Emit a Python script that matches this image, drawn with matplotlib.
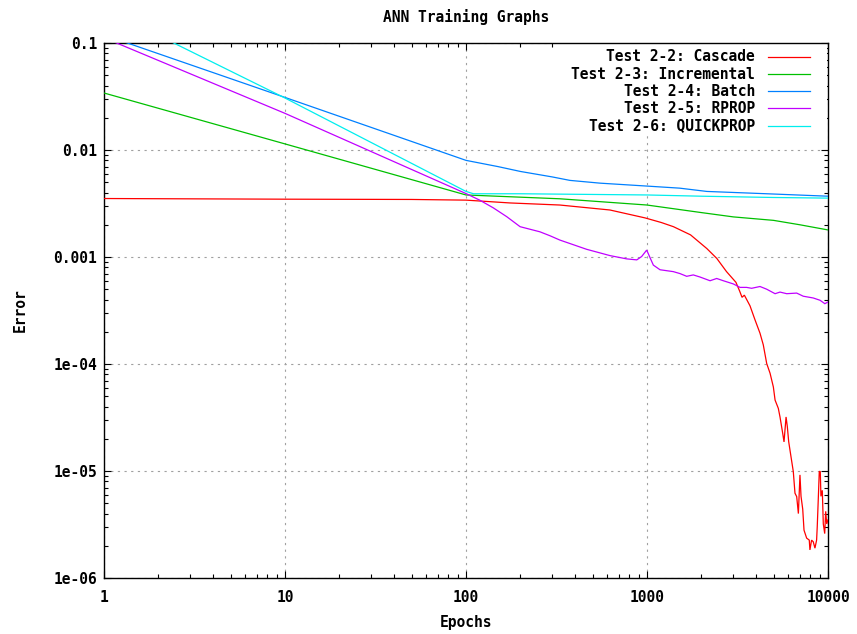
import matplotlib
matplotlib.use("Agg")
import matplotlib.pyplot as plt
from matplotlib.ticker import LogLocator, FixedLocator, FixedFormatter, NullFormatter
from matplotlib.patches import Rectangle
from matplotlib.lines import Line2D
from matplotlib.font_manager import FontProperties

# ---- data -------------------------------------------------------------
cascade_epochs = [1, 10, 50, 100, 175, 330, 624, 975, 1200, 1400, 1740, 2140,
                  2430, 2750, 3100, 3250, 3350, 3450, 3707, 3953, 4210, 4390,
                  4585, 4785, 4990, 5100, 5315, 5430, 5620, 5715, 5865, 5960,
                  6065, 6225, 6430, 6570, 6715, 6860, 7000, 7095, 7250, 7370,
                  7620, 7880, 7945, 8115, 8290, 8470, 8650, 8720, 8840, 8950,
                  9065, 9140, 9300, 9420, 9590, 9710, 9840, 10000]
cascade_error = [0.00352, 0.00347, 0.00345, 0.00340, 0.00320, 0.00306, 0.00275,
                 0.00232, 0.00210, 0.00192, 0.00161, 0.00120, 0.00097, 0.00073,
                 0.00058, 0.00048, 0.00042, 0.00044, 0.00035, 2.58e-4, 1.94e-4,
                 1.51e-4, 1.01e-4, 8.2e-5, 6.1e-5, 4.6e-5, 3.85e-5, 3.2e-5,
                 2.25e-5, 1.87e-5, 3.2e-5, 2.6e-5, 1.88e-5, 1.41e-5, 9.9e-6,
                 6.2e-6, 5.76e-6, 4.0e-6, 9.2e-6, 5.8e-6, 4.4e-6, 2.8e-6,
                 2.36e-6, 2.26e-6, 1.83e-6, 2.26e-6, 2.18e-6, 1.9e-6, 2.26e-6,
                 3.0e-6, 5.56e-6, 9.9e-6, 9.9e-6, 5.8e-6, 6.6e-6, 3.2e-6,
                 2.6e-6, 4.2e-6, 3.2e-6, 3.5e-6]

incremental_epochs = [1, 10, 100, 330, 1000, 2000, 3000, 5000, 7000, 10000]
incremental_error = [0.0341, 0.0114, 0.0038, 0.0035, 0.00306, 0.0026, 0.00237,
                     0.0022, 0.0020, 0.00179]

batch_epochs = [1, 10, 100, 150, 200, 300, 375, 550, 1000, 1515, 2140, 4585, 10000]
batch_error = [0.119, 0.031, 0.0080, 0.0070, 0.0063, 0.0056, 0.0052, 0.0049,
               0.0046, 0.0044, 0.0041, 0.0039, 0.0037]

rprop_epochs = [1, 10, 100.5, 119, 141.5, 168, 199, 256, 291, 330, 464, 625, 773,
                878, 934, 996, 1084, 1180, 1397, 1521, 1657, 1802, 1963, 2230,
                2427, 2640, 3000, 3265, 3550, 3785, 4210, 4585, 5100, 5430,
                5915, 6715, 7300, 8290, 9040, 9610, 10000]
rprop_error = [0.112, 0.022, 0.0039, 0.0034, 0.00288, 0.00238, 0.00192, 0.00172,
               0.00158, 0.00144, 0.00118, 0.00103, 0.00096, 0.00094, 0.00101,
               0.00116, 0.00084, 0.00076, 0.00073, 0.00070, 0.00066, 0.00068,
               0.00065, 0.00060, 0.00063, 0.00060, 0.00056, 0.00052, 0.00052,
               0.00051, 0.00053, 0.00050, 0.000454, 0.00047, 0.000454, 0.00046,
               0.00043, 0.000414, 0.000394, 0.000366, 0.00038]

quickprop_epochs = [1, 10, 100, 110, 200, 1000, 2000, 5000, 10000]
quickprop_error = [0.21, 0.0306, 0.0041, 0.0039, 0.0039, 0.0038, 0.0037,
                   0.0036, 0.00355]

series_labels = ["Test 2-2: Cascade", "Test 2-3: Incremental", "Test 2-4: Batch",
                 "Test 2-5: RPROP", "Test 2-6: QUICKPROP"]
series_colors = ["#ff0000", "#00c000", "#0080ff", "#c000ff", "#00eeee"]

x_ticks = [1, 10, 100, 1000, 10000]
x_tick_labels = ["1", "10", "100", "1000", "10000"]
y_ticks = [1e-6, 1e-5, 1e-4, 1e-3, 1e-2, 1e-1]
y_tick_labels = ["1e-06", "1e-05", "1e-04", "0.001", "0.01", "0.1"]

# ---- figure -----------------------------------------------------------
FONT = {"family": "DejaVu Sans Mono", "weight": "bold", "size": 10.5}

fig = plt.figure(figsize=(8.57, 6.34), dpi=100)
L, R, T, B = 104 / 857, 828 / 857, 1 - 43 / 634, 1 - 578 / 634
ax = fig.add_axes([L, B, R - L, T - B])

ax.set_xscale("log")
ax.set_yscale("log")
ax.set_xlim(1, 10000)
ax.set_ylim(1e-6, 0.1)

series = [(cascade_epochs, cascade_error), (incremental_epochs, incremental_error),
          (batch_epochs, batch_error), (rprop_epochs, rprop_error),
          (quickprop_epochs, quickprop_error)]
for (xs, ys), color in zip(series, series_colors):
    ax.plot(xs, ys, color=color, lw=0.9, zorder=3, solid_joinstyle="miter")

# ticks: inside, mirrored, with minor ticks
ax.xaxis.set_major_locator(FixedLocator(x_ticks))
ax.xaxis.set_major_formatter(FixedFormatter(x_tick_labels))
ax.xaxis.set_minor_locator(LogLocator(base=10, subs=range(2, 10), numticks=20))
ax.xaxis.set_minor_formatter(NullFormatter())
ax.yaxis.set_major_locator(FixedLocator(y_ticks))
ax.yaxis.set_major_formatter(FixedFormatter(y_tick_labels))
ax.yaxis.set_minor_locator(LogLocator(base=10, subs=range(2, 10), numticks=20))
ax.yaxis.set_minor_formatter(NullFormatter())

ax.tick_params(which="both", direction="in", top=True, right=True, width=0.8,
               color="black")
ax.tick_params(which="major", length=5)
ax.tick_params(which="minor", length=3)
ax.tick_params(axis="x", which="major", pad=9)
ax.tick_params(axis="y", which="major", pad=5)
for lab in ax.get_xticklabels() + ax.get_yticklabels():
    lab.set_fontproperties(FontProperties(**FONT))

for sp in ax.spines.values():
    sp.set_linewidth(1.0)
    sp.set_color("black")

ax.grid(True, which="major", color="#a0a0a0", lw=0.8, linestyle=(0, (2, 4)),
        zorder=1)
ax.set_axisbelow(True)

# titles
fig.text((L + R) / 2, 1 - 17 / 634, "ANN Training Graphs", ha="center",
         va="center", **FONT)
ax.set_xlabel("Epochs", va="center", **FONT)
ax.xaxis.set_label_coords(0.5, (578 - 622) / 535)
ax.set_ylabel("Error", va="center", **FONT)
ax.yaxis.set_label_coords((20 - 104) / 724, 0.5)

# key in the upper right corner
ax.add_patch(Rectangle((0.625, 0.826), 0.373, 0.172, transform=ax.transAxes,
                       facecolor="white", edgecolor="none", zorder=2))
row_y = [0.974, 0.942, 0.910, 0.878, 0.845]
for label, color, yy in zip(series_labels, series_colors, row_y):
    ax.text(0.899, yy, label, transform=ax.transAxes, ha="right", va="center",
            zorder=4, **FONT)
    ax.add_line(Line2D([0.917, 0.975], [yy, yy], transform=ax.transAxes,
                       color=color, lw=0.9, zorder=4))

fig.savefig("out.png", dpi=100)
